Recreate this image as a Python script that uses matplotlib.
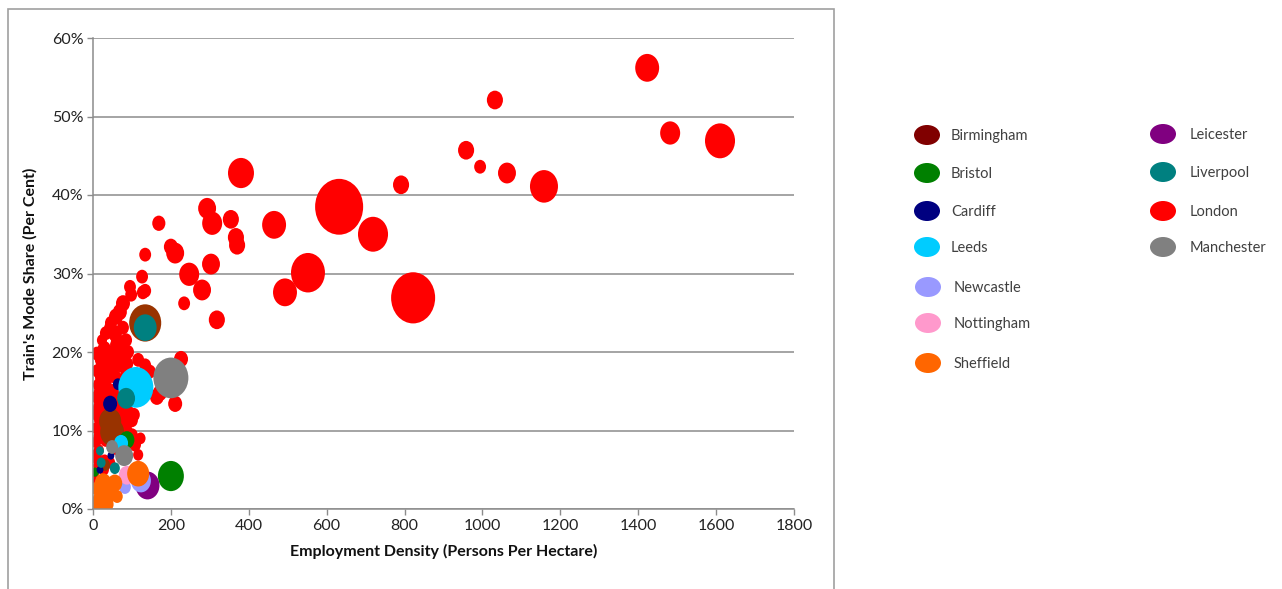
import numpy as np
import matplotlib
matplotlib.use("Agg")
import matplotlib.pyplot as plt
from matplotlib.path import Path
from matplotlib.markers import MarkerStyle
from matplotlib.patches import Rectangle, Ellipse
from matplotlib.ticker import FuncFormatter, MultipleLocator

plt.rcParams['font.family'] = ['Lato', 'DejaVu Sans']

# ---------------- data: (employment density, train mode share %, bubble size) ----------------
london_x = [1423, 1032, 1482, 1610, 958, 994, 1063, 1158, 791, 380, 632, 719, 822, 552, 493, 465,
            293, 306, 354, 367, 370, 303, 247, 280, 169, 200, 211, 134, 126, 134, 234, 318, 226,
            211, 164, 95, 128, 98, 77, 69, 59, 46, 44, 56, 59, 51, 72, 33, 39, 116, 134, 26, 33,
            26, 39, 21, 59, 18, 39, 26, 21, 13, 31, 172, 146,
            8, 18, 8, 18, 8, 15, 8, 13, 5, 5, 64, 74, 90, 100, 85, 64, 33, 108, 116, 28, 44,
            51, 82, 67, 49, 90, 85, 77, 23, 15, 10,
            10, 20, 30, 45, 60, 75, 12, 28, 42, 58, 70, 88, 15, 35, 55, 72, 95, 8, 25, 40,
            62, 80, 105, 12, 30, 50, 66, 84, 20, 38, 14, 48, 100, 122, 60, 10, 30]
london_y = [56.2, 52.1, 47.9, 46.9, 45.7, 43.6, 42.8, 41.1, 41.3, 42.8, 38.5, 35.0, 26.9, 30.1, 27.6, 36.2,
            38.3, 36.4, 36.9, 34.6, 33.6, 31.2, 29.9, 27.9, 36.4, 33.4, 32.6, 32.4, 29.6, 27.8, 26.2, 24.1, 19.1,
            13.4, 14.3, 28.3, 27.6, 27.3, 26.2, 25.1, 24.5, 23.7, 23.1, 22.4, 20.9, 20.0, 20.9, 19.2, 18.0, 19.0, 18.3, 16.8, 22.4,
            20.3, 18.7, 18.6, 18.6, 16.8, 16.8, 15.4, 14.1, 13.0, 12.4, 14.8, 17.5,
            12.0, 11.3, 10.3, 9.4, 8.5, 7.5, 6.5, 5.5, 4.5, 3.4, 12.6, 11.6, 12.4, 11.3, 10.1, 9.8, 8.8, 8.2, 6.9, 5.0, 5.9,
            17.5, 16.7, 14.9, 14.5, 20.0, 21.5, 23.1, 21.5, 14.9, 13.9,
            19.8, 19.0, 20.5, 19.5, 21.8, 18.2, 17.6, 17.0, 17.9, 16.8, 19.6, 18.5, 15.8, 15.5, 15.1, 15.9, 16.2, 14.3, 13.6, 14.0,
            13.2, 13.0, 12.0, 12.5, 11.9, 12.2, 11.0, 10.6, 10.8, 10.0, 9.2, 8.6, 9.4, 9.0, 7.6, 7.0, 6.2]
london_s = [73, 33, 51, 115, 33, 18, 41, 100, 33, 86, 294, 115, 247, 147, 73, 73,
            41, 51, 33, 33, 33, 41, 51, 41, 22, 25, 41, 18, 18, 18, 18, 33, 25,
            25, 25, 18, 18, 18, 25, 25, 25, 18, 18, 25, 18, 18, 25, 18, 18, 18, 18, 18, 18,
            18, 18, 13, 18, 13, 18, 18, 18, 13, 18, 25, 18,
            13, 18, 13, 18, 13, 13, 13, 13, 8, 8, 25, 18, 18, 18, 18, 18, 18, 18, 13, 13, 13,
            18, 18, 18, 18, 18, 18, 18, 13, 13, 8,
            18, 18, 18, 18, 18, 18, 18, 18, 18, 18, 18, 18, 18, 18, 18, 18, 18, 13, 18, 18,
            18, 18, 18, 13, 18, 18, 18, 18, 18, 18, 13, 18, 18, 13, 13, 13, 13]

birmingham_x = [134, 44, 49, 31]
birmingham_y = [23.7, 11.2, 9.8, 5.6]
birmingham_s = [131, 62, 73, 13]

bristol_x = [200, 87, 5]
bristol_y = [4.2, 8.8, 4.7]
bristol_s = [86, 29, 8]

cardiff_x = [44, 64, 46, 18]
cardiff_y = [13.4, 15.9, 6.8, 5.0]
cardiff_s = [25, 13, 6, 6]

leeds_x = [110, 72]
leeds_y = [15.5, 8.4]
leeds_s = [156, 25]

leicester_x = [139]
leicester_y = [3.1]
leicester_s = [73]

liverpool_x = [134, 85, 18, 21, 56]
liverpool_y = [23.1, 14.1, 7.4, 5.9, 5.2]
liverpool_s = [67, 41, 8, 10, 13]

manchester_x = [200, 80, 49]
manchester_y = [16.7, 6.8, 7.9]
manchester_s = [156, 41, 18]

newcastle_x = [123, 82]
newcastle_y = [3.6, 2.8]
newcastle_s = [51, 18]

nottingham_x = [87, 8]
nottingham_y = [4.3, 0.5]
nottingham_s = [33, 8]

sheffield_x = [116, 26, 56, 39, 18, 10, 36, 15, 62]
sheffield_y = [4.5, 3.3, 3.3, 1.8, 1.1, 2.6, 0.6, 0.2, 1.6]
sheffield_s = [62, 36, 28, 30, 30, 18, 22, 18, 16]

# drawing order (London drawn first, behind the others)
series = [
    ("London", london_x, london_y, london_s, "#FF0000"),
    ("Birmingham", birmingham_x, birmingham_y, birmingham_s, "#993300"),
    ("Bristol", bristol_x, bristol_y, bristol_s, "#008000"),
    ("Cardiff", cardiff_x, cardiff_y, cardiff_s, "#000080"),
    ("Leeds", leeds_x, leeds_y, leeds_s, "#00CCFF"),
    ("Leicester", leicester_x, leicester_y, leicester_s, "#800080"),
    ("Liverpool", liverpool_x, liverpool_y, liverpool_s, "#008080"),
    ("Manchester", manchester_x, manchester_y, manchester_s, "#808080"),
    ("Newcastle", newcastle_x, newcastle_y, newcastle_s, "#9999FF"),
    ("Nottingham", nottingham_x, nottingham_y, nottingham_s, "#FF99CC"),
    ("Sheffield", sheffield_x, sheffield_y, sheffield_s, "#FF6600"),
]

legend_left = ["Birmingham", "Bristol", "Cardiff", "Leeds", "Newcastle", "Nottingham", "Sheffield"]
legend_right = ["Leicester", "Liverpool", "London", "Manchester"]
legend_colors = {"Birmingham": "#800000", "Bristol": "#008000", "Cardiff": "#000080",
                 "Leeds": "#00CCFF", "Newcastle": "#9999FF", "Nottingham": "#FF99CC",
                 "Sheffield": "#FF6600", "Leicester": "#800080", "Liverpool": "#008080",
                 "London": "#FF0000", "Manchester": "#808080"}

# ---------------- figure ----------------
W, H = 1282, 589
fig = plt.figure(figsize=(W / 100, H / 100), dpi=100)
ax = fig.add_axes([93 / W, 1 - 509 / H, (794 - 93) / W, (509 - 38) / H])

# elliptical bubble marker (taller than wide, as in the source)
circ = Path.unit_circle()
ell = Path(circ.vertices * np.array([0.86, 1.0]), circ.codes)
marker = MarkerStyle(ell)

k = 5.5
for name, xs, ys, ss, col in series:
    xs = np.asarray(xs, float); ys = np.asarray(ys, float); ss = np.asarray(ss, float)
    order = np.argsort(-ss)
    ax.scatter(xs[order], ys[order], s=ss[order] * k, c=col, marker=marker,
               linewidths=0, zorder=3, clip_on=True)

ax.set_xlim(0, 1800)
ax.set_ylim(0, 60)
ax.xaxis.set_major_locator(MultipleLocator(200))
ax.yaxis.set_major_locator(MultipleLocator(10))
ax.yaxis.set_major_formatter(FuncFormatter(lambda v, p: f"{int(round(v))}%"))
ax.grid(axis='y', color='#8C8C8C', linewidth=1.1, zorder=0)
ax.set_axisbelow(True)
for sp in ['top', 'right']:
    ax.spines[sp].set_visible(False)
for sp in ['left', 'bottom']:
    ax.spines[sp].set_color('#8C8C8C')
    ax.spines[sp].set_linewidth(1.1)
    ax.spines[sp].set_zorder(4)
ax.tick_params(axis='both', length=4, width=1.0, color='#8C8C8C', labelsize=11.5,
               labelcolor='#222222', direction='out', pad=3)
ax.set_xlabel("Employment Density (Persons Per Hectare)", fontsize=11.5, fontweight='bold',
              color='#111111', labelpad=8)
ax.set_ylabel("Train's Mode Share (Per Cent)", fontsize=11.5, fontweight='bold',
              color='#111111', labelpad=10)

# outer chart frame (cropped at the bottom)
fig.patches.append(Rectangle((8 / W, -0.05), (834 - 8) / W, 1 - 9 / H + 0.05,
                             transform=fig.transFigure, fill=False,
                             edgecolor='#A0A0A0', linewidth=1.2))

# ---------------- legend drawn manually in pixel space ----------------
lax = fig.add_axes([0, 0, 1, 1])
lax.set_xlim(0, W)
lax.set_ylim(H, 0)
lax.axis('off')
left_rows = [136, 174, 212, 248, 288, 324, 364]
right_rows = [135, 173, 212, 248]
for name, yy in zip(legend_left, left_rows):
    mx = 927 if name in ("Birmingham", "Bristol", "Cardiff", "Leeds") else 928
    lax.add_patch(Ellipse((mx, yy - 1), 26, 20, color=legend_colors[name], lw=0))
    tx = 951 if mx == 927 else 954
    lax.text(tx, yy, name, fontsize=10.5, color='#404040', va='center', ha='left')
for name, yy in zip(legend_right, right_rows):
    lax.add_patch(Ellipse((1163, yy - 1), 26, 20, color=legend_colors[name], lw=0))
    lax.text(1190, yy, name, fontsize=10.5, color='#404040', va='center', ha='left')

fig.savefig("out.png", dpi=100)
